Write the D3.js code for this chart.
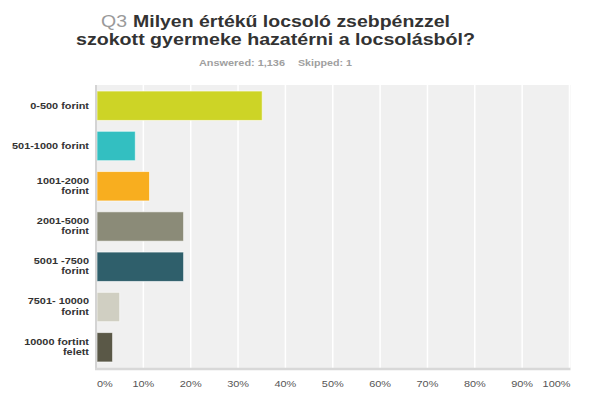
<!DOCTYPE html>
<html>
<head>
<meta charset="utf-8">
<style> body { margin: 0; background: #fff; } </style>
<script src="https://d3js.org/d3.v7.min.js"></script>
</head>
<body>
<div id="chart"></div>
<script>
var categories = [
    ["0-500 forint"],
    ["501-1000 forint"],
    ["1001-2000", "forint"],
    ["2001-5000", "forint"],
    ["5001 -7500", "forint"],
    ["7501- 10000", "forint"],
    ["10000 fortint", "felett"]
];
var values = [35.1, 8.3, 11.3, 18.5, 18.5, 5.0, 3.5];
var colors = ["#cdd426", "#33bfc1", "#f8ae1f", "#8b8b78", "#2f5f6b", "#d0cfc2", "#5a5847"];
var ticks = [0, 10, 20, 30, 40, 50, 60, 70, 80, 90, 100];

var W = 600, H = 400;
var margin = {top: 85, left: 96, right: 30, bottom: 32};

var svg = d3.select("#chart").append("svg")
    .attr("width", W)
    .attr("height", H)
    .style("font-family", "'Liberation Sans', Arial, sans-serif");

// title (the reference text is a bit stretched sideways, so fit widths)
function fitText(x, y, w, size, weight, fill, txt) {
    return svg.append("text")
        .attr("x", x).attr("y", y)
        .attr("font-size", size).attr("font-weight", weight)
        .attr("fill", fill)
        .attr("textLength", w).attr("lengthAdjust", "spacingAndGlyphs")
        .text(txt);
}
fitText(101, 26.5, 26, 17, "normal", "#9a9a9a", "Q3");
fitText(133, 26.5, 317, 17, "bold", "#333", "Milyen értékű locsoló zsebpénzzel");
fitText(76, 45, 399, 17, "bold", "#333", "szokott gyermeke hazatérni a locsolásból?");
fitText(199, 66, 86, 8.5, "bold", "#a0a0a0", "Answered: 1,136");
fitText(298, 66, 54, 8.5, "bold", "#a0a0a0", "Skipped: 1");

var x = d3.scaleLinear()
    .domain([0, 100])
    .range([margin.left, W - margin.right - 0.5]);

var y = d3.scaleBand()
    .domain(d3.range(categories.length))
    .range([margin.top, H - margin.bottom])
    .paddingInner(0.27)
    .paddingOuter(0.15);

var plot = svg.append("g");

plot.append("rect")
    .attr("x", x(0)).attr("y", margin.top)
    .attr("width", x(100) - x(0) + 1)
    .attr("height", H - margin.bottom - margin.top)
    .attr("fill", "#f0f0f0");

plot.selectAll(".grid")
    .data(ticks.slice(1))
    .join("line")
    .attr("x1", d => x(d)).attr("x2", d => x(d))
    .attr("y1", margin.top).attr("y2", H - margin.bottom)
    .attr("stroke", "#fff")
    .attr("stroke-width", 1.5);

plot.selectAll(".bar")
    .data(values)
    .join("rect")
    .attr("x", x(0) + 1)
    .attr("y", (d, i) => y(i))
    .attr("width", d => x(d) - x(0) - 1)
    .attr("height", y.bandwidth())
    .attr("fill", (d, i) => colors[i])
    .attr("stroke", "rgba(255,255,255,0.6)")
    .attr("stroke-width", 1);

// axis lines
plot.append("line")
    .attr("x1", x(0)).attr("x2", x(0))
    .attr("y1", margin.top).attr("y2", H - margin.bottom)
    .attr("stroke", "#d4d4d4").attr("stroke-width", 2);
plot.append("line")
    .attr("x1", x(0) - 1).attr("x2", x(100) + 1)
    .attr("y1", H - margin.bottom + 1).attr("y2", H - margin.bottom + 1)
    .attr("stroke", "#d8d8d8").attr("stroke-width", 2.5);

// y labels
var labels = svg.append("g")
    .attr("transform", "translate(89,0) scale(1.15,1)")
    .selectAll(".ylab")
    .data(categories)
    .join("text")
    .attr("text-anchor", "end")
    .attr("font-size", 9.5).attr("font-weight", "bold")
    .attr("fill", "#333")
    .attr("x", 0)
    .attr("y", (d, i) => y(i) + y.bandwidth() / 2 + (d.length === 1 ? 3.4 : -2.6));
labels.selectAll("tspan")
    .data(d => d)
    .join("tspan")
    .attr("x", 0)
    .attr("dy", (d, i) => i === 0 ? 0 : 10.3)
    .text(d => d);

// x tick labels
svg.selectAll(".xlab")
    .data(ticks)
    .join("g")
    .attr("transform", d => "translate(" + (d === 0 ? x(d) + 1 : d === 100 ? x(d) + 1 : x(d)) + ",387) scale(1.15,1)")
    .append("text")
    .attr("text-anchor", d => d === 0 ? "start" : d === 100 ? "end" : "middle")
    .attr("font-size", 9.5)
    .attr("fill", "#555")
    .text(d => d + "%");
</script>
</body>
</html>
